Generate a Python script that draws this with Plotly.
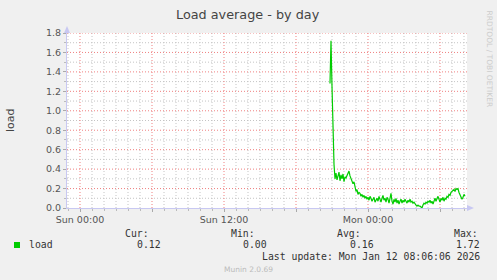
import pandas as pd
import plotly.graph_objects as go

# ---- data ----
series_start = "2026-01-11 20:50"
load = [
    1.28, 1.72, 1.25, 0.80, 0.45, 0.30, 0.36, 0.29, 0.33, 0.37,
    0.28, 0.34, 0.30, 0.35, 0.27, 0.32, 0.31, 0.34, 0.36, 0.38,
    0.33, 0.30, 0.29, 0.25, 0.27, 0.20, 0.17, 0.19, 0.14, 0.16,
    0.15, 0.12, 0.14, 0.11, 0.13, 0.10, 0.12, 0.09, 0.11, 0.08,
    0.12, 0.10, 0.07, 0.09, 0.11, 0.06, 0.08, 0.10, 0.07, 0.12,
    0.09, 0.06, 0.10, 0.13, 0.08, 0.10, 0.06, 0.11, 0.09, 0.05,
    0.10, 0.15, 0.07, 0.04, 0.09, 0.06, 0.10, 0.05, 0.08, 0.04,
    0.07, 0.09, 0.05, 0.08, 0.06, 0.09, 0.07, 0.05, 0.08, 0.06,
    0.09, 0.06, 0.07, 0.05, 0.06, 0.04, 0.03, 0.02, 0.03, 0.02,
    0.02, 0.01, 0.00, 0.03, 0.05, 0.04, 0.06, 0.05, 0.07, 0.06,
    0.08, 0.05, 0.07, 0.04, 0.08, 0.10, 0.07, 0.09, 0.12, 0.09,
    0.06, 0.10, 0.08, 0.11, 0.07, 0.10, 0.09, 0.12, 0.11, 0.14,
    0.13, 0.16, 0.17, 0.18, 0.19, 0.17, 0.20, 0.19, 0.20, 0.16,
    0.13, 0.10, 0.09, 0.11, 0.14, 0.12,
]
times = pd.date_range(series_start, periods=len(load), freq="5min")

x_range = ["2026-01-10 22:55", "2026-01-12 08:15"]
x_tick_vals = ["2026-01-11 00:00", "2026-01-11 06:00", "2026-01-11 12:00",
               "2026-01-11 18:00", "2026-01-12 00:00", "2026-01-12 06:00"]
x_tick_text = ["Sun 00:00", "", "Sun 12:00", "", "Mon 00:00", ""]
y_tick_vals = [0.0, 0.2, 0.4, 0.6, 0.8, 1.0, 1.2, 1.4, 1.6, 1.8]
y_minor_vals = [0.1, 0.3, 0.5, 0.7, 0.9, 1.1, 1.3, 1.5, 1.7]
y_range = [0, 1.8]

series_name = "load"
stat_labels = ["Cur:", "Min:", "Avg:", "Max:"]
stat_values = ["0.12", "0.00", "0.16", "1.72"]
title = "Load average - by day"
y_title = "load"
last_update = "Last update: Mon Jan 12 08:06:06 2026"
side_text = "RRDTOOL / TOBI OETIKER"
footer = "Munin 2.0.69"

# hourly minor ticks, skipping the 6-hour major ones
hours = pd.date_range("2026-01-10 23:00", "2026-01-12 08:00", freq="1h")
x_minor_vals = [h for h in hours if h.hour % 6 != 0]

# ---- layout geometry (pixels) ----
W, H = 497, 280
L, R, T, B = 67, 467, 33, 208


def px(x):
    return (x - L) / (R - L)


def py(y):
    return (B - y) / (B - T)


BG = "#F0F0F0"
GREEN = "#00CC00"
MAJOR = "#F08080"
MINOR = "#C4C4C4"
AXIS = "#C8C8F2"
TXT = "#555555"
MONO = "DejaVu Sans Mono"
SANS = "DejaVu Sans"
DASH = "1px,2px"

fig = go.Figure()

# grid (drawn as background lines from the tick lists)
for v in y_minor_vals:
    fig.add_shape(type="line", xref="paper", x0=0, x1=1, yref="y", y0=v, y1=v,
                  line=dict(color=MINOR, width=1, dash=DASH), layer="below")
for v in x_minor_vals:
    fig.add_shape(type="line", yref="paper", y0=0, y1=1, xref="x", x0=v, x1=v,
                  line=dict(color=MINOR, width=1, dash=DASH), layer="below")
for v in y_tick_vals[1:]:
    fig.add_shape(type="line", xref="paper", x0=0, x1=1, yref="y", y0=v, y1=v,
                  line=dict(color=MAJOR, width=1, dash=DASH), layer="below")
for v in x_tick_vals:
    fig.add_shape(type="line", yref="paper", y0=0, y1=1, xref="x", x0=v, x1=v,
                  line=dict(color=MAJOR, width=1, dash=DASH), layer="below")

fig.add_trace(go.Scatter(x=times, y=load, mode="lines",
                         line=dict(color=GREEN, width=1.2), name=series_name,
                         showlegend=False, hoverinfo="skip"))

fig.update_layout(
    width=W, height=H,
    margin=dict(l=L, r=W - R, t=T, b=H - B),
    paper_bgcolor=BG, plot_bgcolor="white",
    showlegend=False,
    font=dict(family=SANS, color=TXT, size=9.5),
)

fig.update_xaxes(
    type="date", range=x_range, tickmode="array",
    tickvals=x_tick_vals, ticktext=x_tick_text,
    showgrid=False,
    ticks="outside", ticklen=3, tickcolor="#AAAAAA",
    showline=True, linecolor=AXIS, linewidth=1,
    tickfont=dict(family=SANS, size=9.5, color=TXT),
    minor=dict(tickmode="array", tickvals=x_minor_vals, showgrid=False,
               ticks="outside", ticklen=2, tickcolor="#BBBBBB"),
    zeroline=False, fixedrange=True,
)
fig.update_yaxes(
    range=y_range, tickmode="array", tickvals=y_tick_vals,
    tickformat=".1f",
    showgrid=False,
    ticks="outside", ticklen=3, tickcolor="#AAAAAA",
    showline=True, linecolor=AXIS, linewidth=1,
    tickfont=dict(family=SANS, size=9.5, color=TXT),
    minor=dict(tickmode="array", tickvals=y_minor_vals, showgrid=False,
               ticks="outside", ticklen=2, tickcolor="#BBBBBB"),
    zeroline=False, fixedrange=True,
)

# axis arrows
fig.add_shape(type="path", xref="paper", yref="paper",
              path=f"M {px(64)} {py(33)} L {px(70)} {py(33)} L {px(67)} {py(26)} Z",
              fillcolor=AXIS, line=dict(width=0))
fig.add_shape(type="path", xref="paper", yref="paper",
              path=f"M {px(467)} {py(205)} L {px(467)} {py(211)} L {px(474)} {py(208)} Z",
              fillcolor=AXIS, line=dict(width=0))

ann = []
ann.append(dict(text=title, x=px(248), y=py(14), xanchor="center", yanchor="middle",
                font=dict(family=SANS, size=12.8, color="#444444")))
ann.append(dict(text=y_title, x=px(10), y=py(120), xanchor="center", yanchor="middle",
                textangle=-90, font=dict(family=SANS, size=11, color="#444444")))
ann.append(dict(text=side_text, x=px(489), y=py(8), xanchor="center", yanchor="top",
                textangle=90, font=dict(family=SANS, size=7.5, color="#CCCCCC")))

# legend row
fig.add_shape(type="rect", xref="paper", yref="paper",
              x0=px(14), x1=px(20), y0=py(248), y1=py(242),
              fillcolor=GREEN, line=dict(width=0))
ann.append(dict(text=series_name, x=px(27), y=py(244.5), xanchor="left", yanchor="middle",
                font=dict(family=MONO, size=9.8, color="#333333")))
label_right = [151, 257, 363, 480]
value_right = [163, 269, 376, 482]
for lab, val, lx, vx in zip(stat_labels, stat_values, label_right, value_right):
    ann.append(dict(text=lab, x=px(lx), y=py(233), xanchor="right", yanchor="middle",
                    font=dict(family=MONO, size=9.8, color="#333333")))
    ann.append(dict(text=val, x=px(vx), y=py(244.5), xanchor="right", yanchor="middle",
                    font=dict(family=MONO, size=9.8, color="#333333")))
ann.append(dict(text=last_update, x=px(482), y=py(256), xanchor="right", yanchor="middle",
                font=dict(family=MONO, size=9.8, color="#333333")))
ann.append(dict(text=footer, x=px(248), y=py(269), xanchor="center", yanchor="middle",
                font=dict(family=SANS, size=7.5, color="#BBBBBB")))

for a in ann:
    a.update(xref="paper", yref="paper", showarrow=False)
fig.update_layout(annotations=ann)

fig.write_html("out.html")
